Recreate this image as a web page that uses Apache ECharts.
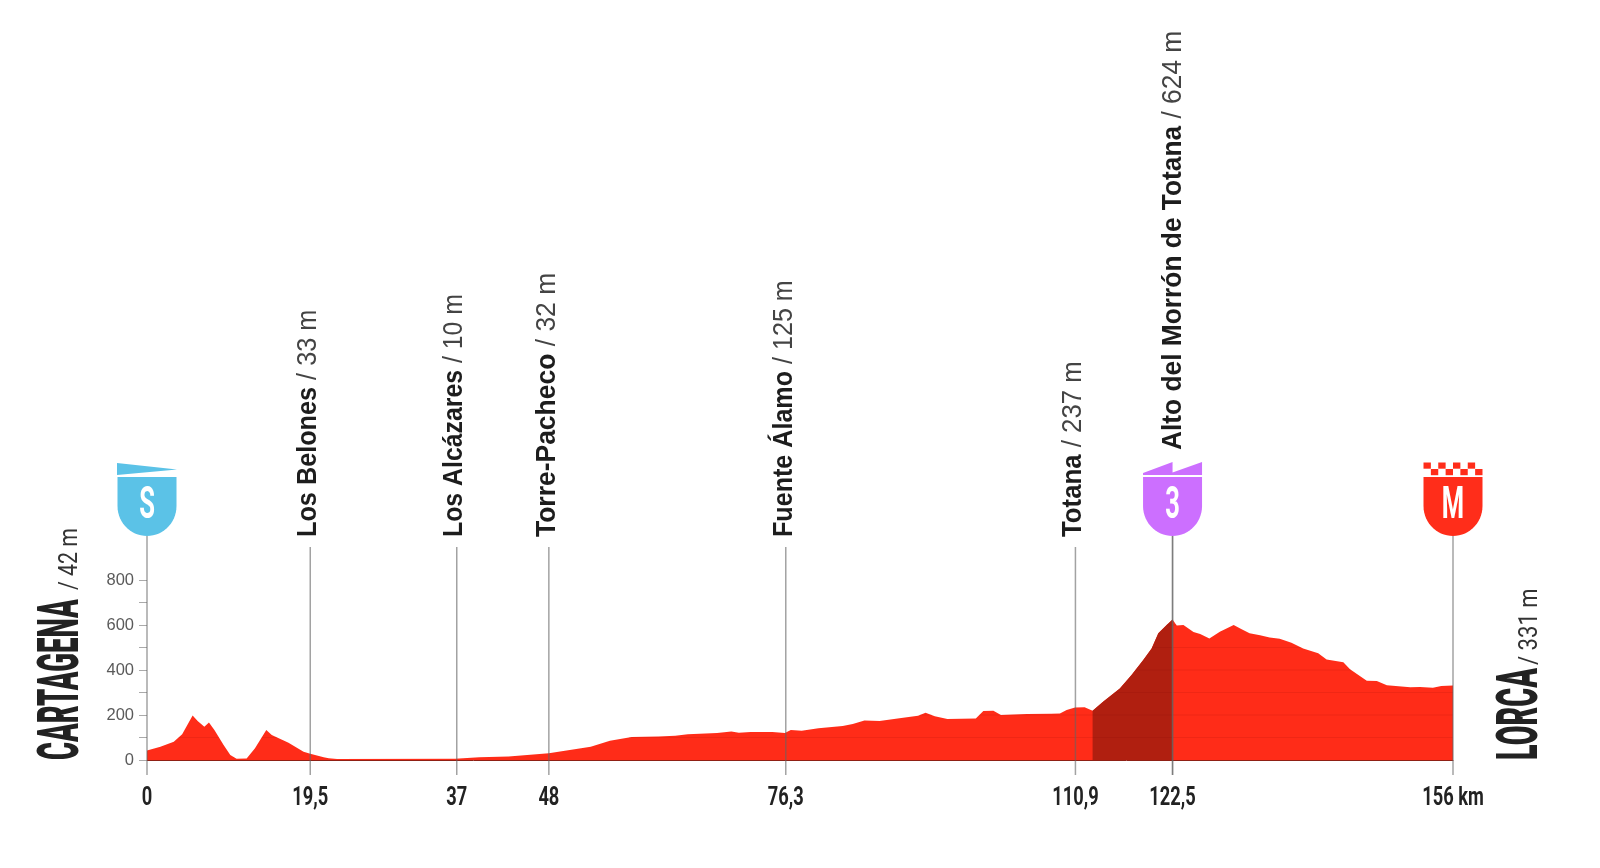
<!DOCTYPE html>
<html><head><meta charset="utf-8">
<style>html,body{margin:0;padding:0;background:#fff}#c{width:1600px;height:868px}</style>
<script src="https://cdn.jsdelivr.net/npm/echarts@6/dist/echarts.min.js"></script>
</head><body><div id="c"></div>
<script>
// ---- data ----
const profileKm = [0,1.6,3.2,4.2,5.45,6.05,6.85,7.4,8.05,9.15,9.95,10.7,11.9,12.9,14.25,14.9,16.9,18.7,19.5,21.1,21.7,22.7,36.8,39.7,43.2,48,53,55.3,57.9,61.1,63.1,64.6,68.1,69.8,70.7,72.1,74.7,76.2,76.9,78.2,80.2,83.1,84.3,85.7,87.5,90.1,92.1,93,94.1,95.6,99,99.9,101.1,102,105.1,108,109.05,109.85,110.85,112,112.95,114.2,116.2,117.6,119,120,120.8,121.8,122.5,123,123.8,125,125.8,126.9,128.15,129.8,130.7,131.7,132.95,134.1,135.3,136.7,138.1,139.9,140.9,142.9,143.7,145.7,146.9,148.1,150.9,152.05,153.6,154.6,156];
const profileAlt = [42,59,81,114,198,173,148,167,133,67,22,6,7,52,133,111,77,37,28,12,8,5,6,12,16,30,59,86,102,105,108,115,120,127,121,124,124,120,133,130,141,151,160,176,173,187,197,210,195,182,185,218,219,200,204,206,207,222,233,234,219,259,318,378,444,496,563,600,624,598,600,569,560,540,570,600,582,563,555,545,539,521,496,474,447,435,403,352,351,332,323,324,321,329,331];
const climbStartKm = 112.95, climbEndKm = 122.5;
const stopKm = [19.5,37,48,76.3,110.9,122.5];
const stopNames = ['Los Belones','Los Alcázares','Torre-Pacheco','Fuente Álamo','Totana','Alto del Morrón de Totana'];
const stopAlt = ['33 m','10 m','32 m','125 m','237 m','624 m'];
const shieldKm = [0,122.5,156];
const shieldLetters = ['S','3','M'];
const distanceLabels = ['0','19,5','37','48','76,3','110,9','122,5','156 km'];
const distanceKm = [0,19.5,37,48,76.3,110.9,122.5,156];
const startPlace = 'CARTAGENA', startAlt = '/ 42 m';
const finishPlace = 'LORCA', finishAlt = '/ 331 m';
const altitudeLevels = [100,200,300,400,500,600];

// ---- styling / layout ----
const RED='#ff2c18', DARK='#b01f10', GRAY='rgba(100,100,100,0.6)';
const NARROW='Roboto', SANS='"Liberation Sans"';
const shieldColors=['#5bc2e7','#cc6fff','#ff2d1a'];
const labelShift=[7,6,7,7,7,10];
const labelBottom=[223,223,223,223,223,310];
const labelScale=[0.935,0.92,0.98,0.93,0.955,0.975];

const chart=echarts.init(document.getElementById('c'),null,{renderer:'canvas'});
const climb=profileKm.map((k,i)=>[k,profileAlt[i]]).filter(p=>p[0]>=climbStartKm&&p[0]<=climbEndKm);

function vText(x,y,text,font,size,weight,color,sx,extra){
  return {type:'group',x:x,y:y,rotation:Math.PI/2,scaleX:sx,silent:true,children:[
    {type:'text',style:Object.assign({text:text,x:0,y:0,fontFamily:font,fontSize:size,fontWeight:weight,fill:color,align:'left',verticalAlign:'bottom'},extra||{})}]};
}
function segments(level){
  const out=[];let start=null;
  for(let i=0;i<profileKm.length;i++){
    const a=profileAlt[i],k=profileKm[i];
    if(a>=level&&start===null){
      start=i===0?k:profileKm[i-1]+(level-profileAlt[i-1])/(a-profileAlt[i-1])*(k-profileKm[i-1]);
    }else if(a<level&&start!==null){
      out.push([start,profileKm[i-1]+(profileAlt[i-1]-level)/(profileAlt[i-1]-a)*(k-profileKm[i-1])]);start=null;
    }
  }
  if(start!==null)out.push([start,profileKm[profileKm.length-1]]);
  return out;
}
function shieldBody(cx,top,color){
  const pts=[[cx-29.5,top],[cx+29.5,top]];
  for(let d=0;d<=180;d+=6){const t=d*Math.PI/180;pts.push([cx+29.5*Math.cos(t),top+29+30*Math.sin(t)]);}
  return {type:'polygon',shape:{points:pts},style:{fill:color},silent:true};
}
function flag(i,cx,color){
  const rel=pp=>({type:'polygon',shape:{points:pp.map(p=>[cx+p[0],p[1]])},style:{fill:color},silent:true});
  if(i===0)return [rel([[-30,463],[30,469.5],[-30,475]])];
  if(i===1)return [rel([[-29.5,473],[0,462],[0,472.5],[29.5,462],[29.5,475],[-29.5,475]])];
  const out=[],w=59/8;
  for(let c=0;c<8;c++){const y=c%2?469:462.5;out.push(rel([[-29.5+c*w,y],[-29.5+(c+1)*w,y],[-29.5+(c+1)*w,y+6.2],[-29.5+c*w,y+6.2]]));}
  return out;
}

chart.setOption({
  animation:false,backgroundColor:'#fff',
  grid:{left:147,top:580,width:1306,height:180},
  xAxis:{type:'value',min:0,max:156,axisLine:{show:true,onZero:true,lineStyle:{color:'#8f2015',width:1}},axisTick:{show:false},axisLabel:{show:false},splitLine:{show:false}},
  yAxis:{type:'value',min:0,max:800,interval:100,axisLine:{show:false},splitLine:{show:false},
    axisTick:{show:true,length:8,lineStyle:{color:'#aaa',width:1}},
    axisLabel:{margin:13,color:'#5a5a5a',fontFamily:SANS,fontSize:16.5,formatter:v=>v%200===0?String(v):''}},
  series:[
    {type:'line',name:'profile',data:profileKm.map((k,i)=>[k,profileAlt[i]]),symbol:'none',lineStyle:{width:0},areaStyle:{color:RED,opacity:1},z:2,silent:true},
    {type:'line',name:'climb',data:climb,symbol:'none',lineStyle:{width:0},areaStyle:{color:DARK,opacity:1},z:3,silent:true},
    {type:'custom',name:'levels',coordinateSystem:'cartesian2d',z:4,silent:true,clip:false,data:altitudeLevels.map(l=>[0,l]),
      renderItem:(p,api)=>{const lv=api.value(1);return {type:'group',children:segments(lv).map(s=>{
        const a=api.coord([s[0],lv]),b=api.coord([s[1],lv]);
        return {type:'line',shape:{x1:a[0],y1:a[1],x2:b[0],y2:b[1]},style:{stroke:'rgba(110,0,0,0.1)',lineWidth:1},silent:true};})};}},
    {type:'custom',name:'stops',coordinateSystem:'cartesian2d',z:5,silent:true,clip:false,data:stopKm.map(k=>[k,0]),
      renderItem:(p,api)=>{const i=p.dataIndex,c=api.coord([api.value(0),0]),top=i===5?536:547;
        return {type:'group',children:[
          {type:'line',shape:{x1:c[0],y1:top,x2:c[0],y2:c[1]+15},style:{stroke:GRAY,lineWidth:1.5},silent:true},
          vText(c[0]+labelShift[i]+5,c[1]-labelBottom[i],'{b|'+stopNames[i]+'}{l| / '+stopAlt[i]+'}',SANS,27,400,'#222',labelScale[i],
            {rich:{b:{fontFamily:SANS,fontWeight:700,fontSize:27,fill:'#1d1d1d'},l:{fontFamily:SANS,fontWeight:400,fontSize:27,fill:'#444'}}})
        ]};}},
    {type:'custom',name:'shields',coordinateSystem:'cartesian2d',z:6,silent:true,clip:false,data:shieldKm.map(k=>[k,0]),
      renderItem:(p,api)=>{const i=p.dataIndex,c=api.coord([api.value(0),0]),cx=c[0];
        return {type:'group',children:[
          {type:'line',shape:{x1:cx,y1:536,x2:cx,y2:c[1]+15},style:{stroke:GRAY,lineWidth:1.5},silent:true},
          shieldBody(cx,477,shieldColors[i])].concat(flag(i,cx,shieldColors[i])).concat([
          {type:'group',x:cx,y:507,scaleX:0.58,silent:true,children:[{type:'text',style:{text:shieldLetters[i],x:0,y:0,align:'center',verticalAlign:'middle',fontFamily:NARROW,fontWeight:700,fontSize:44,fill:'#fff'}}]}
        ])};}},
    {type:'custom',name:'distances',coordinateSystem:'cartesian2d',z:6,silent:true,clip:false,data:distanceKm.map(k=>[k,0]),
      renderItem:(p,api)=>{const c=api.coord([api.value(0),0]);
        return {type:'group',x:c[0],y:c[1]+39,scaleX:0.73,silent:true,children:[{type:'text',style:{text:distanceLabels[p.dataIndex],x:0,y:0,align:'center',verticalAlign:'middle',fontFamily:NARROW,fontWeight:700,fontSize:25,fill:'#222'}}]};}},
    {type:'custom',name:'ends',coordinateSystem:'cartesian2d',z:6,silent:true,clip:false,data:[[0,0],[156,0]],
      renderItem:(p,api)=>{const c=api.coord([api.value(0),0]);
        if(p.dataIndex===0)return {type:'group',children:[
          vText(c[0]-69+14,c[1],startPlace,NARROW,57,900,'#222',0.483),
          vText(c[0]-69+5,c[1]-170,startAlt,NARROW,26,400,'#333',0.82)]};
        return {type:'group',children:[
          vText(c[0]+85+13.5,c[1],finishPlace,NARROW,57,900,'#222',0.505),
          vText(c[0]+85+5,c[1]-95,finishAlt,NARROW,26,400,'#333',0.85)]};}}
  ]
});
</script></body></html>
